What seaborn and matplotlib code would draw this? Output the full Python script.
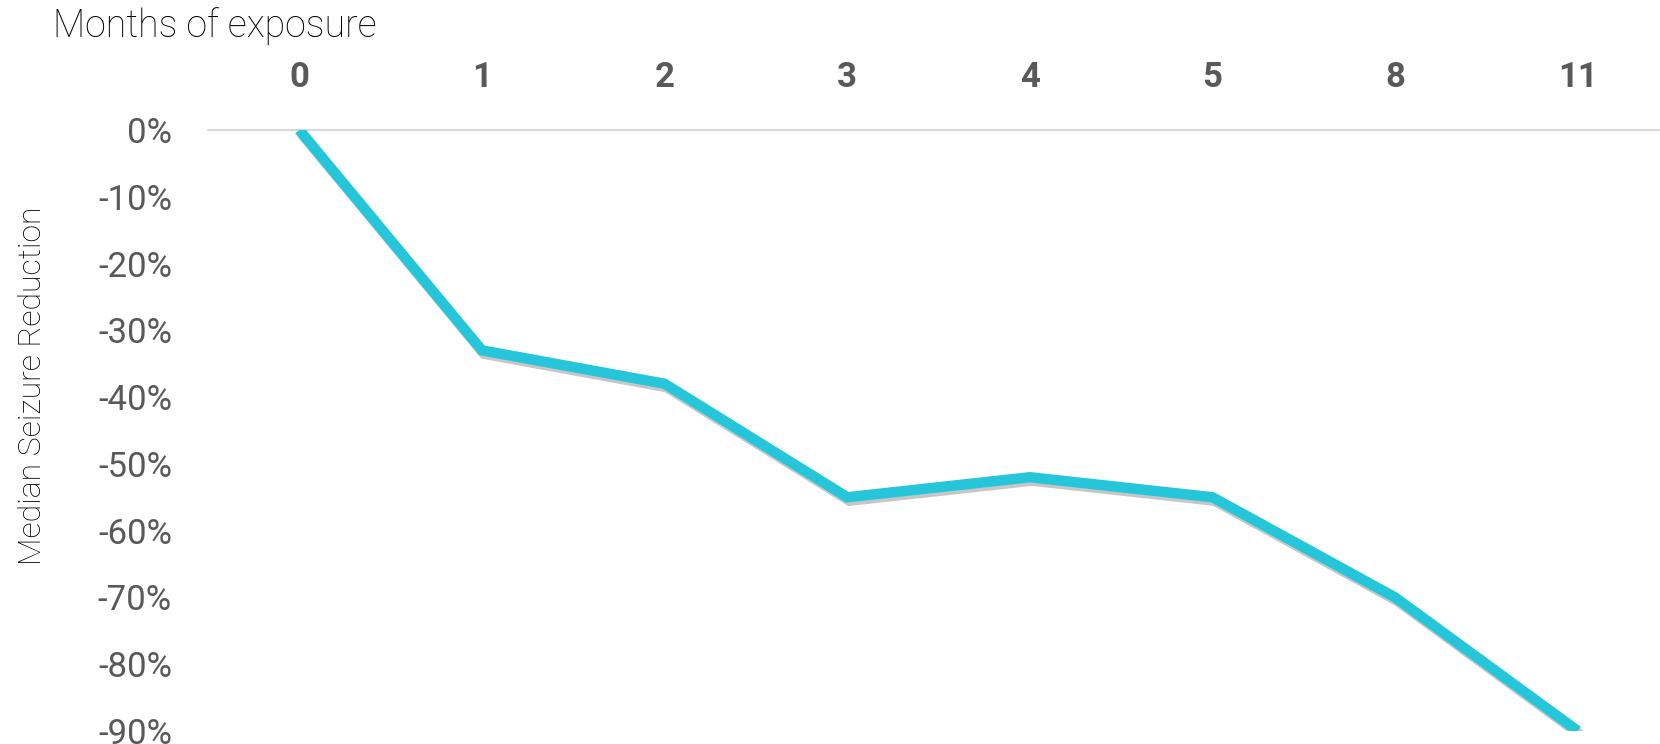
import matplotlib
matplotlib.use("Agg")
import matplotlib.pyplot as plt
import matplotlib.patheffects as pe
import matplotlib.ticker as mticker
import numpy as np
import pandas as pd
import seaborn as sns

# Data
months = ["0", "1", "2", "3", "4", "5", "8", "11"]
reduction = [0.0, -0.33, -0.38, -0.55, -0.52, -0.55, -0.70, -0.90]
y_ticks = [0.0, -0.1, -0.2, -0.3, -0.4, -0.5, -0.6, -0.7, -0.8, -0.9]

sns.set_theme(style="white")
plt.rcParams["font.family"] = ["Roboto", "DejaVu Sans"]

df = pd.DataFrame({"pos": np.arange(len(months)), "reduction": reduction})

fig = plt.figure(figsize=(16.6, 7.44), dpi=100)
ax = fig.add_axes([0.1253, 0.0175, 0.8747, 0.8078])

sns.lineplot(data=df, x="pos", y="reduction", ax=ax, color="#26C6DA",
             linewidth=7.5, solid_capstyle="butt", solid_joinstyle="miter",
             path_effects=[pe.SimpleLineShadow(offset=(1.5, -2.5), shadow_color="#444444", alpha=0.3),
                           pe.Normal()])

ax.set_xlim(-0.5, 7.45)
ax.set_ylim(-0.9, 0.0)

# Month labels along the top
ax.xaxis.tick_top()
ax.set_xticks(df["pos"])
ax.set_xticklabels(months, fontsize=25, fontweight="bold", color="#595959")
ax.tick_params(axis="x", length=0, pad=26)

ax.set_yticks(y_ticks)
ax.yaxis.set_major_formatter(mticker.FuncFormatter(lambda v, _: f"{v * 100:.0f}%"))
ax.tick_params(axis="y", length=0, pad=26, labelsize=25, labelcolor="#595959")

for side in ["left", "right", "bottom", "top"]:
    ax.spines[side].set_visible(False)
ax.axhline(0, color="#d9d9d9", linewidth=1.5, zorder=0, clip_on=False)
ax.grid(False)

ax.set_xlabel("")
ax.set_ylabel("")
fig.text(0.0193, 0.481, "Median Seizure Reduction", rotation=90, ha="center", va="center",
         fontsize=23, fontweight="light", color="black")
fig.text(0.032, 0.965, "Months of exposure", ha="left", va="center",
         fontsize=27, fontweight="light", color="black")

fig.savefig("out.png", dpi=100, facecolor="white")
